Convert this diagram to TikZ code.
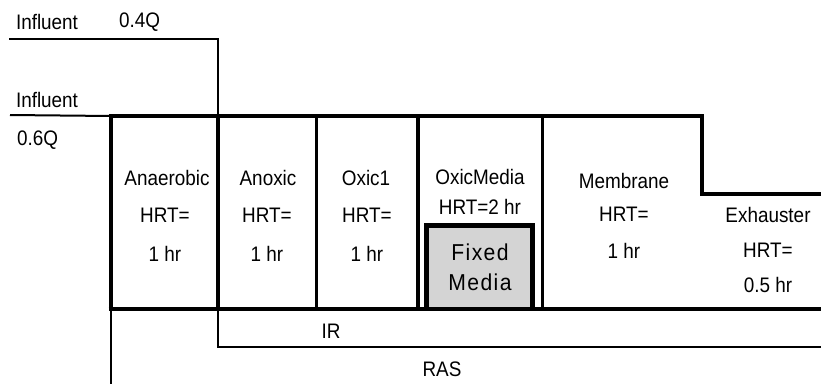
\documentclass[tikz,border=0pt]{standalone}
\usepackage{fontspec}
\setmainfont[FakeStretch=0.9]{Liberation Sans}
\newfontfamily\mediafont[LetterSpace=6,FakeStretch=0.92]{Liberation Sans}
\tikzset{
  thinline/.style={line width=2pt, line cap=rect, line join=miter},
  wall/.style={line width=4pt, line cap=rect, line join=miter},
  divider/.style={line width=3.6pt},
  lbl/.style={inner sep=0pt, font=\fontsize{21}{24}\selectfont},
  medialbl/.style={inner sep=0pt, align=center, font=\mediafont\fontsize{23}{30}\selectfont},
  mediabox/.style={line width=4.5pt, fill=black!17, line join=miter}
}
\begin{document}
\begin{tikzpicture}[x=1pt,y=-1pt]
\useasboundingbox (0,0) rectangle (821,383);
% named coordinates
\coordinate (inA) at (10,39);
\coordinate (inAc) at (218,39);
\coordinate (inB) at (10,115);
\coordinate (tl) at (111,116);
\coordinate (bl) at (111,309);
\coordinate (blx) at (108.5,309);
\coordinate (tr) at (701.5,116);
\coordinate (stp) at (701.5,194);
\coordinate (stpR) at (823,194);
\coordinate (br) at (823,309);
\coordinate (d1t) at (218,116);
\coordinate (d1b) at (218,309);
\coordinate (d2t) at (316.5,116);
\coordinate (d2b) at (316.5,309);
\coordinate (d3t) at (418,116);
\coordinate (d3b) at (418,309);
\coordinate (d4t) at (542.5,116);
\coordinate (d4b) at (542.5,309);
\coordinate (irc) at (218,347);
\coordinate (irR) at (823,347);
\coordinate (ras) at (111,385);
% influent lines
\draw[thinline] (inA) -- (inAc) -- (d1t);
\draw[thinline, line cap=butt] (inB) -- (tl);
% recycle lines
\draw[thinline, line cap=butt] (d1b) -- (irc) -- (irR);
\draw[thinline, line cap=butt] (bl) -- (ras);
% dividers
\draw[divider] (d1t) -- (d1b);
\draw[divider] (d2t) -- (d2b);
\draw[divider] (d3t) -- (d3b);
\draw[divider] (d4t) -- (d4b);
% fixed media
\draw[mediabox] (426.5,309) -- (426.5,225.5) -- (532.5,225.5) -- (532.5,309) -- cycle;
% outer walls
\draw[wall] (bl) -- (tl) -- (tr) -- (stp) -- (stpR);
\draw[wall, line cap=butt] (blx) -- (br);
% labels
\node[lbl] (t1) at (47,22) {Influent};
\node[lbl] (t2) at (139.5,22) {0.4Q};
\node[lbl] (t3) at (47,99.5) {Influent};
\node[lbl] (t4) at (37.5,140) {0.6Q};
\node[lbl] (an1) at (167,177.5) {Anaerobic};
\node[lbl] (an2) at (165,215) {HRT=};
\node[lbl] (an3) at (165,253.5) {1 hr};
\node[lbl] (ax1) at (268,177.5) {Anoxic};
\node[lbl] (ax2) at (267,215) {HRT=};
\node[lbl] (ax3) at (267,253.5) {1 hr};
\node[lbl] (o1) at (366,177.5) {Oxic1};
\node[lbl] (o2) at (367,215) {HRT=};
\node[lbl] (o3) at (367,253.5) {1 hr};
\node[lbl] (om1) at (480,176.5) {OxicMedia};
\node[lbl] (om2) at (480,206.5) {HRT=2 hr};
\node[medialbl] (fm) at (480,267) {Fixed\\Media};
\node[lbl] (m1) at (624,180.5) {Membrane};
\node[lbl] (m2) at (624,214.5) {HRT=};
\node[lbl] (m3) at (624,251) {1 hr};
\node[lbl] (e1) at (768,215) {Exhauster};
\node[lbl] (e2) at (768,250) {HRT=};
\node[lbl] (e3) at (768,285) {0.5 hr};
\node[lbl] (ir) at (331,331.5) {IR};
\node[lbl] (rs) at (442,369.5) {RAS};
\end{tikzpicture}
\end{document}
